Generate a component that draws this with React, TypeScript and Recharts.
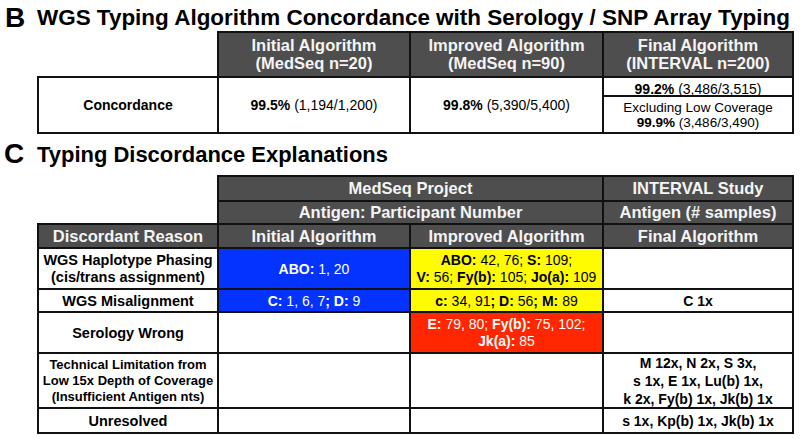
import React from 'react';
import { ComposedChart, XAxis, YAxis, ReferenceArea, Label, Customized } from 'recharts';

const W = 800;
const H = 439;
const FONT = '"Liberation Sans", Arial, Helvetica, sans-serif';

// ---- panel B: concordance ----
const algorithms = ['Initial Algorithm', 'Improved Algorithm', 'Final Algorithm'];
const cohorts = ['(MedSeq n=20)', '(MedSeq n=90)', '(INTERVAL n=200)'];
const concordance = ['**99.5%** (1,194/1,200)', '**99.8%** (5,390/5,400)', '**99.2%** (3,486/3,515)'];
const excludingLowCoverage = ['Excluding Low Coverage', '**99.9%** (3,486/3,490)'];

// ---- panel C: discordance explanations ----
const projects = ['MedSeq Project', 'INTERVAL Study'];
const antigenHeaders = ['Antigen: Participant Number', 'Antigen (# samples)'];
const reasons = [
  ['WGS Haplotype Phasing', '(cis/trans assignment)'],
  ['WGS Misalignment'],
  ['Serology Wrong'],
  ['Technical Limitation from', 'Low 15x Depth of Coverage', '(Insufficient Antigen nts)'],
  ['Unresolved'],
];
const initialResults = [['**ABO:** 1, 20'], ['**C:** 1, 6, 7**; D:** 9'], [], [], []];
const improvedResults = [
  ['**ABO:** 42, 76; **S:** 109;', '**V:** 56; **Fy(b):** 105; **Jo(a):** 109'],
  ['**c:** 34, 91**; D:** 56**; M:** 89'],
  ['**E:** 79, 80; **Fy(b):** 75, 102;', '**Jk(a):** 85'],
  [],
  [],
];
const finalResults = [
  [],
  ['C 1x'],
  [],
  ['M 12x, N 2x, S 3x,', 's 1x, E 1x, Lu(b) 1x,', 'k 2x, Fy(b) 1x, Jk(b) 1x'],
  ['s 1x, Kp(b) 1x, Jk(b) 1x'],
];

// layout (pixels in the 800x439 frame)
const colX = [38, 218, 410, 603, 793];
const bY = { top: 32, head: 77, split: 96, bottom: 133 };
const cY = [176, 201, 224, 248, 289, 312, 353, 408, 433];

const HEAD_FILL = '#4e4e4e';
const HEAD_TEXT = '#f4f4f4';
const BORDER = '#111';
const BLUE = '#0433ff';
const YELLOW = '#fffb00';
const RED = '#ff2600';
const highlight: Record<string, string> = {
  '0-0': BLUE,
  '1-0': BLUE,
  '0-1': YELLOW,
  '1-1': YELLOW,
  '2-1': RED,
};

type TextStyle = { size: number; lh: number; color: string; bold?: boolean; dy?: number };

const parse = (line: string, bold: boolean) =>
  line.split('**').map((t, i) => ({ t, b: bold || i % 2 === 1 }));

const cellText = (lines: string[], st: TextStyle) => (props: any) => {
  const vb = props.viewBox || props;
  const cx = vb.x + vb.width / 2;
  const cy = vb.y + vb.height / 2 + (st.dy || 0);
  const y0 = cy - ((lines.length - 1) * st.lh) / 2 + st.size * 0.36;
  return (
    <text
      textAnchor="middle"
      fontFamily={FONT}
      fontSize={st.size}
      fill={st.color}
      style={{ whiteSpace: 'pre' }}
    >
      {lines.map((ln, i) => (
        <tspan key={i} x={cx} y={y0 + i * st.lh}>
          {parse(ln, !!st.bold).map((s, j) => (
            <tspan key={j} fontWeight={s.b ? 'bold' : 'normal'}>
              {s.t}
            </tspan>
          ))}
        </tspan>
      ))}
    </text>
  );
};

const headStyle: TextStyle = { size: 16.5, lh: 18, color: HEAD_TEXT, bold: true };

const Cell = (p: {
  x1: number;
  x2: number;
  y1: number;
  y2: number;
  fill: string;
  lines: string[];
  st: TextStyle;
  k: string;
}) => (
  <ReferenceArea
    key={p.k}
    x1={p.x1}
    x2={p.x2}
    y1={p.y1}
    y2={p.y2}
    fill={p.fill}
    fillOpacity={1}
    stroke={BORDER}
    strokeWidth={2}
    ifOverflow="visible"
  >
    <Label content={cellText(p.lines, p.st)} />
  </ReferenceArea>
);

const Titles = () => (
  <g fontFamily={FONT} fontWeight="bold" fill="#000">
    <text x={5} y={27} fontSize={28}>B</text>
    <text x={37} y={25} fontSize={22} textLength={753} lengthAdjust="spacingAndGlyphs">
      WGS Typing Algorithm Concordance with Serology / SNP Array Typing
    </text>
    <text x={4} y={163} fontSize={28}>C</text>
    <text x={37} y={162} fontSize={22} textLength={351} lengthAdjust="spacingAndGlyphs">
      Typing Discordance Explanations
    </text>
  </g>
);

export default function App() {
  const cells: any[] = [];

  // panel B header
  algorithms.forEach((a, i) => {
    cells.push(
      Cell({
        k: `bh${i}`,
        x1: colX[i + 1],
        x2: colX[i + 2],
        y1: bY.top,
        y2: bY.head,
        fill: HEAD_FILL,
        lines: [a, cohorts[i]],
        st: headStyle,
      })
    );
  });
  // panel B body
  cells.push(
    Cell({
      k: 'bl',
      x1: colX[0],
      x2: colX[1],
      y1: bY.head,
      y2: bY.bottom,
      fill: '#fff',
      lines: ['Concordance'],
      st: { size: 14, lh: 17, color: '#000', bold: true },
    })
  );
  concordance.forEach((c, i) => {
    const last = i === concordance.length - 1;
    cells.push(
      Cell({
        k: `bc${i}`,
        x1: colX[i + 1],
        x2: colX[i + 2],
        y1: bY.head,
        y2: last ? bY.split : bY.bottom,
        fill: '#fff',
        lines: [c],
        st: { size: 14, lh: 17, color: '#000', dy: last ? 2 : 0 },
      })
    );
  });
  cells.push(
    Cell({
      k: 'bx',
      x1: colX[3],
      x2: colX[4],
      y1: bY.split,
      y2: bY.bottom,
      fill: '#fff',
      lines: excludingLowCoverage,
      st: { size: 13.5, lh: 15, color: '#000' },
    })
  );

  // panel C header rows
  const spans = [
    [colX[1], colX[3]],
    [colX[3], colX[4]],
  ];
  projects.forEach((p, i) => {
    cells.push(
      Cell({ k: `cp${i}`, x1: spans[i][0], x2: spans[i][1], y1: cY[0], y2: cY[1], fill: HEAD_FILL, lines: [p], st: headStyle })
    );
  });
  antigenHeaders.forEach((p, i) => {
    cells.push(
      Cell({ k: `ca${i}`, x1: spans[i][0], x2: spans[i][1], y1: cY[1], y2: cY[2], fill: HEAD_FILL, lines: [p], st: headStyle })
    );
  });
  ['Discordant Reason', ...algorithms].forEach((h, i) => {
    cells.push(
      Cell({ k: `cr${i}`, x1: colX[i], x2: colX[i + 1], y1: cY[2], y2: cY[3], fill: HEAD_FILL, lines: [h], st: headStyle })
    );
  });

  // panel C body
  reasons.forEach((r, row) => {
    const y1 = cY[row + 3];
    const y2 = cY[row + 4];
    const small = r.length > 2;
    cells.push(
      Cell({
        k: `cl${row}`,
        x1: colX[0],
        x2: colX[1],
        y1,
        y2,
        fill: '#fff',
        lines: r,
        st: small ? { size: 13, lh: 16, color: '#000', bold: true } : { size: 14.5, lh: 17.5, color: '#000', bold: true },
      })
    );
    [initialResults, improvedResults, finalResults].forEach((col, c) => {
      const fill = highlight[`${row}-${c}`] || '#fff';
      const dark = fill === BLUE || fill === RED;
      cells.push(
        Cell({
          k: `cv${row}-${c}`,
          x1: colX[c + 1],
          x2: colX[c + 2],
          y1,
          y2,
          fill,
          lines: col[row],
          st: {
            size: 14,
            lh: col[row].length > 2 ? 18 : 17.5,
            color: dark ? '#fff' : '#000',
            bold: c === 2,
          },
        })
      );
    });
  });

  return (
    <div style={{ position: 'absolute', left: 0, top: 0, width: W, height: H, background: '#fff' }}>
      <ComposedChart width={W} height={H} margin={{ top: 0, right: 0, bottom: 0, left: 0 }} data={[]}>
        <XAxis type="number" dataKey="x" domain={[0, W]} hide allowDataOverflow />
        <YAxis type="number" dataKey="y" domain={[0, H]} reversed hide allowDataOverflow />
        {cells}
        <Customized component={Titles} />
      </ComposedChart>
    </div>
  );
}
